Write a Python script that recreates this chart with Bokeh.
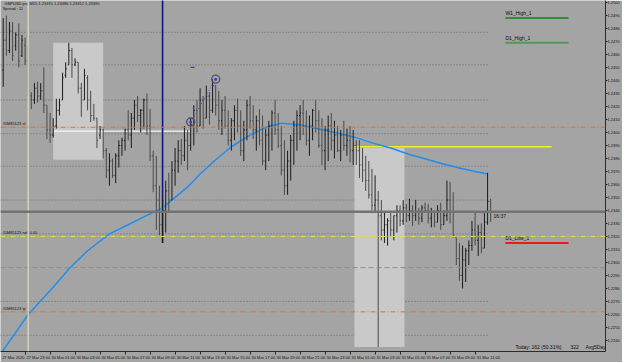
import numpy as np
import pandas as pd
from bokeh.plotting import figure
from bokeh.models import ColumnDataSource, FixedTicker, Range1d, Label, Span, NumeralTickFormatter
from bokeh.embed import file_html
from bokeh.resources import INLINE
from bokeh.core.properties import value

# ---------------- data ----------------
symbol_title = "GBPUSD.pro,M15  1.23470 1.23486 1.23312 1.23390"
spread_text = "Spread : 11"

bar_open = [1.2448,1.2471,1.2463,1.2478,1.2467,1.2475,1.2459,1.2467,1.2455,1.2428,
            1.2425,1.2434,1.2428,1.2432,1.2421,1.2402,1.2398,1.2405,1.2417,1.2425,
            1.2444,1.2452,1.2463,1.2452,1.2454,1.2434,1.2425,1.2442,1.2425,1.2413,
            1.2411,1.2398,1.2402,1.2386,1.2371,1.2378,1.2367,1.2382,1.2390,1.2394,
            1.2402,1.2398,1.2411,1.2421,1.2413,1.2417,1.2425,1.2405,1.2382,1.2359,
            1.2348,1.2329,1.2340,1.2355,1.2348,1.2371,1.2378,1.2386,1.2382,1.2394,
            1.2390,1.2406,1.2417,1.2405,1.2425,1.2411,1.2428,1.2417,1.2436,1.2421,
            1.2409,1.2417,1.2405,1.2394,1.2409,1.2417,1.2405,1.2386,1.2402,1.2421,
            1.2409,1.2402,1.2409,1.2394,1.2378,1.2398,1.2405,1.2415,1.2402,1.2390,
            1.2371,1.2359,1.2378,1.2394,1.2405,1.2413,1.2415,1.2405,1.2394,1.2405,
            1.2417,1.2409,1.2390,1.2386,1.2402,1.2405,1.2394,1.2398,1.2386,1.2398,
            1.2390,1.2394,1.2386,1.2390,1.2386,1.2375,1.2371,1.2363,1.2352,1.2344,
            1.2348,1.2336,1.2325,1.2329,1.2332,1.2325,1.2336,1.2340,1.2332,1.2342,
            1.2336,1.2340,1.2336,1.2339,1.2334,1.2342,1.2340,1.2334,1.2339,1.2331,
            1.2340,1.2329,1.2336,1.2348,1.2339,1.2319,1.2303,1.2290,1.2302,1.2309,
            1.2313,1.2325,1.2317,1.2323,1.2311,1.2331,1.2347]
bar_high = [1.2488,1.2490,1.2485,1.2485,1.2477,1.2484,1.2475,1.2473,1.2467,1.2431,
            1.2438,1.2439,1.2438,1.2450,1.2421,1.2415,1.2411,1.2426,1.2426,1.2446,
            1.2454,1.2469,1.2465,1.2457,1.2454,1.2438,1.2449,1.2444,1.2432,1.2422,
            1.2411,1.2405,1.2403,1.2388,1.2384,1.2380,1.2384,1.2394,1.2396,1.2403,
            1.2417,1.2415,1.2425,1.2428,1.2418,1.2426,1.2430,1.2418,1.2386,1.2382,
            1.2359,1.2348,1.2363,1.2369,1.2378,1.2388,1.2394,1.2395,1.2405,1.2402,
            1.2411,1.2421,1.2425,1.2434,1.2428,1.2436,1.2431,1.2441,1.2436,1.2432,
            1.2425,1.2428,1.2417,1.2411,1.2421,1.2426,1.2417,1.2409,1.2425,1.2428,
            1.2421,1.2413,1.2418,1.2413,1.2403,1.2409,1.2417,1.2425,1.2415,1.2405,
            1.2394,1.2386,1.2398,1.2409,1.2417,1.2421,1.2425,1.2417,1.2413,1.2418,
            1.2425,1.2417,1.2411,1.2405,1.2413,1.2415,1.2409,1.2405,1.2402,1.2409,
            1.2403,1.2405,1.2402,1.2394,1.2394,1.2388,1.2382,1.2378,1.2372,1.2367,
            1.2355,1.2348,1.2339,1.2334,1.2339,1.2336,1.2344,1.2344,1.2348,1.2345,
            1.2349,1.2344,1.2348,1.2342,1.2344,1.2346,1.2345,1.2342,1.2340,1.2344,
            1.2346,1.2340,1.2363,1.2362,1.2354,1.2319,1.2315,1.2313,1.2311,1.2317,
            1.2332,1.2339,1.2329,1.2330,1.2338,1.2369,1.2349]
bar_low = [1.2435,1.2459,1.2461,1.2455,1.2463,1.2450,1.2458,1.2452,1.2428,1.2418,
           1.2422,1.2423,1.2425,1.2415,1.2395,1.2392,1.2396,1.2403,1.2413,1.2425,
           1.2442,1.2452,1.2442,1.2451,1.2430,1.2412,1.2425,1.2417,1.2408,1.2409,
           1.2388,1.2395,1.2380,1.2365,1.2359,1.2365,1.2361,1.2373,1.2382,1.2386,
           1.2394,1.2388,1.2402,1.2408,1.2400,1.2403,1.2398,1.2378,1.2354,1.2325,
           1.2321,1.2315,1.2323,1.2339,1.2348,1.2359,1.2369,1.2375,1.2378,1.2371,
           1.2386,1.2390,1.2400,1.2405,1.2403,1.2411,1.2406,1.2415,1.2413,1.2402,
           1.2398,1.2403,1.2390,1.2386,1.2394,1.2400,1.2382,1.2378,1.2394,1.2403,
           1.2395,1.2386,1.2390,1.2375,1.2371,1.2378,1.2386,1.2398,1.2388,1.2367,
           1.2352,1.2352,1.2363,1.2375,1.2386,1.2394,1.2398,1.2390,1.2382,1.2394,
           1.2400,1.2388,1.2375,1.2371,1.2378,1.2386,1.2380,1.2385,1.2378,1.2386,
           1.2382,1.2377,1.2375,1.2375,1.2365,1.2362,1.2355,1.2349,1.2340,1.2339,
           1.2235,1.2317,1.2315,1.2313,1.2320,1.2317,1.2323,1.2328,1.2329,1.2331,
           1.2332,1.2328,1.2332,1.2329,1.2331,1.2339,1.2330,1.2327,1.2327,1.2331,
           1.2325,1.2329,1.2332,1.2330,1.2319,1.2298,1.2286,1.2280,1.2285,1.2298,
           1.2309,1.2313,1.2305,1.2307,1.2311,1.2329,1.2331]
bar_close = [1.2471,1.2463,1.2478,1.2459,1.2475,1.2455,1.2471,1.2455,1.2432,1.2425,
             1.2434,1.2428,1.2432,1.2421,1.2402,1.2398,1.2405,1.2417,1.2421,1.2442,
             1.2449,1.2463,1.2452,1.2454,1.2434,1.2425,1.2444,1.2425,1.2413,1.2411,
             1.2394,1.2402,1.2386,1.2371,1.2378,1.2367,1.2382,1.2390,1.2394,1.2402,
             1.2398,1.2411,1.2421,1.2413,1.2417,1.2425,1.2405,1.2382,1.2359,1.2348,
             1.2329,1.2340,1.2355,1.2348,1.2371,1.2378,1.2386,1.2382,1.2394,1.2390,
             1.2406,1.2417,1.2405,1.2425,1.2411,1.2428,1.2417,1.2436,1.2421,1.2409,
             1.2417,1.2405,1.2394,1.2409,1.2417,1.2405,1.2386,1.2402,1.2421,1.2409,
             1.2402,1.2409,1.2394,1.2378,1.2398,1.2405,1.2415,1.2402,1.2390,1.2371,
             1.2359,1.2378,1.2394,1.2405,1.2413,1.2415,1.2405,1.2394,1.2405,1.2417,
             1.2409,1.2390,1.2386,1.2402,1.2405,1.2394,1.2398,1.2386,1.2398,1.2390,
             1.2394,1.2386,1.2390,1.2386,1.2375,1.2371,1.2363,1.2352,1.2344,1.2348,
             1.2336,1.2325,1.2329,1.2332,1.2325,1.2336,1.2340,1.2332,1.2342,1.2336,
             1.2340,1.2336,1.2339,1.2334,1.2342,1.2340,1.2334,1.2339,1.2331,1.2340,
             1.2329,1.2336,1.2348,1.2339,1.2321,1.2303,1.2290,1.2302,1.2309,1.2313,
             1.2325,1.2317,1.2323,1.2311,1.2331,1.2347,1.2339]

# moving average (read at selected bars)
ma_bars = [-1, 8, 16, 21, 27, 34, 40, 45, 51, 55, 59, 63, 68, 73, 79, 84, 89, 95,
           102, 108, 113, 118, 124, 130, 136, 142, 147, 151, 155]
ma_values = [1.2229, 1.2260, 1.2281, 1.2295, 1.2309, 1.2322, 1.2329, 1.2335, 1.2342,
             1.2350, 1.2358, 1.2368, 1.2379, 1.2389, 1.2398, 1.2404, 1.2407, 1.2406,
             1.2402, 1.2399, 1.2396, 1.2392, 1.2388, 1.2383, 1.2379, 1.2375, 1.2372,
             1.2370, 1.2368]

price_tick_labels = ["1.2500", "1.2490", "1.2480", "1.2470", "1.2460", "1.2450", "1.2440",
                     "1.2430", "1.2420", "1.2410", "1.2400", "1.2390", "1.2380", "1.2370",
                     "1.2360", "1.2350", "1.2340", "1.2330", "1.2320", "1.2310", "1.2300",
                     "1.2290", "1.2280", "1.2270", "1.2260", "1.2250", "1.2240", "1.2230"]

grid_levels = [1.2477, 1.2452, 1.2425, 1.2399, 1.2374, 1.2348, 1.2322, 1.2270, 1.2244]
dashed_level = 1.2296
order_name = "#5M85123"
order_sl = 1.2404
order_price = 1.2320
order_tp = 1.2262
entry_line_price = 1.2401
yellow_level = 1.2389
w1_high = 1.2488
d1_high = 1.2469
d1_low = 1.2315
trade_bars = [60, 68]
trade_prices = [1.2408, 1.2441]
mark_bar = [60.6]
mark_price = [1.2450]
day_low_bar = 51
separator_bar = 8
box_left = [16, 112.4]
box_right = [32, 128.4]
box_top = [1.2469, 1.2388]
box_bottom = [1.2379, 1.2235]
yellow_from, yellow_to = 112.4, 175.5
entry_from, entry_to = 16, 60
level_from, level_to = 160.7, 180.9
timer_text = "16:37"
stats = ["Today: 162 (50.31%)", "322", "Avg5Days:"]

# bar times (M15)
bar_times = list(pd.date_range("2020-03-27 21:15", "2020-03-27 23:45", freq="15min")) + \
            list(pd.date_range("2020-03-30 00:00", periods=146, freq="15min"))

# ---------------- layout constants ----------------
PX_PER_BAR = 3.125
FRAME_W, FRAME_H = 605, 351
X0 = -2.7 / PX_PER_BAR
X1 = X0 + FRAME_W / PX_PER_BAR
PX_PER_PRICE = 13000.0
Y1 = 1.25015
Y0 = Y1 - FRAME_H / PX_PER_PRICE
last_bar_x = (489 - 2.7) / PX_PER_BAR

BG = "#a4a4a4"
FONT = "Liberation Sans"

p = figure(frame_width=FRAME_W, frame_height=FRAME_H, x_range=Range1d(X0, X1),
           y_range=Range1d(Y0, Y1),
           y_axis_location="right", toolbar_location=None, output_backend="svg",
           min_border_left=0, min_border_top=0, min_border_right=0, min_border_bottom=0,
           background_fill_color=BG, border_fill_color=BG, outline_line_color=None)
p.grid.visible = False

# dotted horizontal levels (bars region only)
p.segment(x0=[X0] * len(grid_levels), y0=grid_levels, x1=[last_bar_x] * len(grid_levels),
          y1=grid_levels, line_color="#6a6a6a", line_dash="1 2", line_width=1)
p.add_layout(Span(location=dashed_level, dimension="width", line_color="#8c8c8c",
                  line_dash="5 3", line_width=1))

# boxes
p.quad(left=box_left, right=box_right, top=box_top, bottom=box_bottom,
       fill_color="#c9c9c9", line_color=None)

# vertical separator
p.add_layout(Span(location=separator_bar, dimension="height", line_color="#d2d2bc",
                  line_width=1.5))

# order lines
p.add_layout(Span(location=order_sl, dimension="width", line_color="#ee6a32",
                  line_dash="5 2 1 2", line_width=1))
p.add_layout(Span(location=order_price, dimension="width", line_color="#e4e040",
                  line_dash="5 2 1 2", line_width=1))
p.add_layout(Span(location=order_tp, dimension="width", line_color="#ee6a32",
                  line_dash="5 2 1 2", line_width=1))
# bid line
p.add_layout(Span(location=bar_close[-1], dimension="width", line_color="#737373",
                  line_width=2.5))

# entry/yellow lines
p.segment(x0=[entry_from], y0=[entry_line_price], x1=[entry_to], y1=[entry_line_price],
          line_color="#f4f4ec", line_width=1.2)
p.segment(x0=[yellow_from], y0=[yellow_level], x1=[yellow_to], y1=[yellow_level],
          line_color="#f2f01e", line_width=1.6)

# daily/weekly levels
p.segment(x0=[level_from] * 2, y0=[w1_high, d1_high], x1=[level_to] * 2, y1=[w1_high, d1_high],
          line_color=["#2f8f35", "#4f9a55"], line_width=2)
p.segment(x0=[level_from], y0=[d1_low], x1=[level_to], y1=[d1_low],
          line_color="#f01818", line_width=2)

# navy vertical trend line down to the day low
p.segment(x0=[day_low_bar], y0=[d1_low], x1=[day_low_bar], y1=[Y1 + 0.001],
          line_color="#14147e", line_width=1.6)

# moving average
p.line(ma_bars, ma_values, line_color="#1e8ff0", line_width=1.5)

# OHLC bars
df = pd.DataFrame(dict(o=bar_open, h=bar_high, l=bar_low, c=bar_close))
df["i"] = np.arange(len(df))
df["io"] = df["i"] - 0.34
df["ic"] = df["i"] + 0.34
df["color"] = np.where(df["c"] >= df["o"], "#1c1c1c", "#4a4a4a")
src = ColumnDataSource(df)
p.segment(x0="i", y0="l", x1="i", y1="h", line_color="color", line_width=1, source=src)
p.segment(x0="io", y0="o", x1="i", y1="o", line_color="color", line_width=1, source=src)
p.segment(x0="i", y0="c", x1="ic", y1="c", line_color="color", line_width=1, source=src)

# trade arrows
p.line(trade_bars, trade_prices, line_color="#3a55ff", line_dash="1 2", line_width=1)
p.scatter(trade_bars, trade_prices, marker="circle", size=8, fill_color=None,
          line_color="#555555", line_width=1.4)
p.scatter(trade_bars, trade_prices, marker="circle", size=3, fill_color="#2040ff",
          line_color=None)
p.scatter(mark_bar, mark_price, marker="dash", size=4, line_color="#2040ff", line_width=1.2)

# texts
def txt(x, y, s, size="4px", baseline="middle", yoff=0, color="#101010", align="left"):
    p.text(x=[x], y=[y], text=[s], text_font=value(FONT), text_font_size=size,
           text_baseline=baseline, text_align=align, text_color=color, y_offset=yoff)

txt(X0 + 1.3, Y1 - 3 / PX_PER_PRICE, symbol_title)
txt(X0 + 0.7, Y1 - 8 / PX_PER_PRICE, spread_text)
txt(X0 + 0.6, order_sl, order_name + " sl", baseline="bottom", yoff=-1)
txt(X0 + 0.6, order_price, order_name + " sell 0.00", baseline="bottom", yoff=-1)
txt(X0 + 0.6, order_tp, order_name + " tp", baseline="bottom", yoff=-1)
txt(level_from, w1_high, "W1_High_1", size="5px", baseline="bottom", yoff=-2)
txt(level_from, d1_high, "D1_High_1", size="5px", baseline="bottom", yoff=-2)
txt(level_from, d1_low, "D1_Low_1", size="5px", baseline="bottom", yoff=-2)
txt(156.9, bar_close[-1], timer_text, size="5px", yoff=4)
txt(163.9, Y0 + 5 / PX_PER_PRICE, stats[0], size="5px")
txt(181.5, Y0 + 5 / PX_PER_PRICE, stats[1], size="5px")
txt(186.3, Y0 + 5 / PX_PER_PRICE, stats[2], size="5px")

# current price box on the axis
p.add_layout(Label(x=X1 + 0.7, y=bar_close[-1], text="%.4f" % bar_close[-1],
                   text_font=FONT, text_font_size="4px", text_color="white",
                   text_baseline="middle", background_fill_color="black"))

# ---- axes ----
price_ticks = [float(s) for s in price_tick_labels]
ya = p.yaxis[0]
ya.ticker = FixedTicker(ticks=price_ticks)
ya.formatter = NumeralTickFormatter(format="0.0000")
ya.major_label_text_font = FONT
ya.major_label_text_font_size = "4px"
ya.major_label_text_color = "#101010"
ya.major_tick_out = 2
ya.major_tick_in = 0
ya.minor_tick_out = 0
ya.minor_tick_in = 0
ya.major_label_standoff = 0
ya.axis_line_color = "#2a2a2a"
ya.major_tick_line_color = "#2a2a2a"

tick_bars = [-1] + [i for i, t in enumerate(bar_times) if t.minute == 0 and t.hour % 2 == 1]
tick_texts = ["27 Mar 2020"] + [bar_times[i].strftime("%d %b %H:%M") for i in tick_bars[1:]]
LABEL_SHIFT = 4.25
xa = p.xaxis[0]
xa.ticker = FixedTicker(ticks=[b + LABEL_SHIFT for b in tick_bars], minor_ticks=tick_bars)
xa.major_label_overrides = {b + LABEL_SHIFT: s for b, s in zip(tick_bars, tick_texts)}
xa.major_label_text_font = FONT
xa.major_label_text_font_size = "4px"
xa.major_label_text_color = "#101010"
xa.major_tick_out = 0
xa.major_tick_in = 0
xa.minor_tick_out = 3
xa.minor_tick_in = 0
xa.minor_tick_line_color = "#2a2a2a"
xa.major_label_standoff = 0
xa.axis_line_color = "#2a2a2a"

open("out.html", "w").write(file_html(p, INLINE))
